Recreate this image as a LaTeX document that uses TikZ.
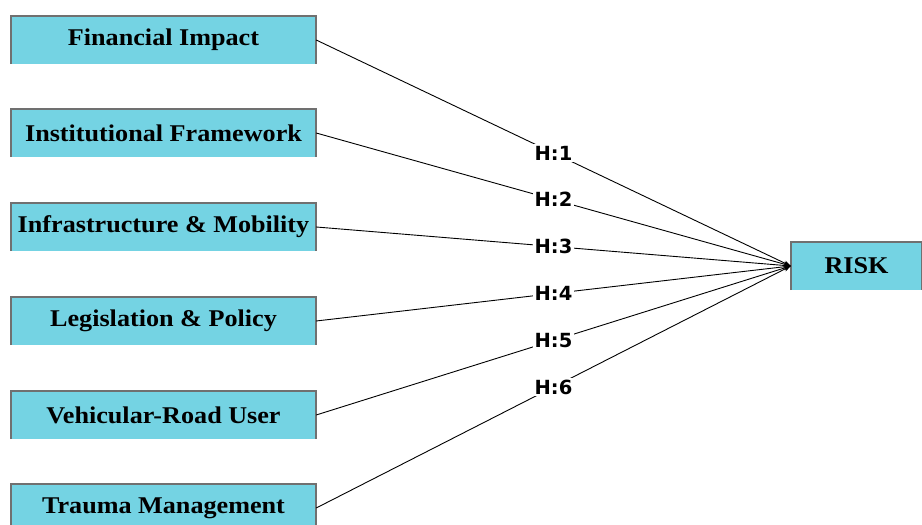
\documentclass[tikz,border=0pt]{standalone}
\usepackage{fontspec}
\usepackage{graphicx}
\setmainfont{Liberation Serif}
\newfontfamily\lblfont{DejaVu Sans}
\usetikzlibrary{arrows.meta}
\definecolor{boxfill}{RGB}{116,211,227}
\definecolor{boxedge}{RGB}{112,112,112}
\tikzset{
  factor/.style={fill=boxfill, draw=none, minimum width=305pt, minimum height=48pt, inner sep=0pt,
    font=\fontsize{24}{26}\selectfont\bfseries},
  riskbox/.style={fill=boxfill, draw=none, minimum width=131pt, minimum height=48pt, inner sep=0pt,
    font=\fontsize{24}{26}\selectfont\bfseries},
  edgeline/.style={draw=boxedge, line width=1.6pt},
  link/.style={draw=black, line width=0.9pt, -{Stealth[length=7pt,width=5pt]}},
  hlabel/.style={fill=white, inner sep=1.5pt, font=\lblfont\fontsize{19.5}{21}\selectfont\bfseries}
}
\newcommand{\wide}[1]{\scalebox{1.09}[1]{#1}}
\begin{document}
\begin{tikzpicture}[x=1pt,y=1pt]
\useasboundingbox (0,0) rectangle (922,525);
\node[factor] (f1) at (163.5,485) {\wide{Financial Impact}};
\node[factor] (f2) at (163.5,392) {\wide{Institutional Framework}};
\node[factor] (f3) at (163.5,298) {\wide{Infrastructure \& Mobility}};
\node[factor] (f4) at (163.5,204) {\wide{Legislation \& Policy}};
\node[factor] (f5) at (163.5,110) {\wide{Vehicular-Road User}};
\node[factor] (f6) at (163.5,17) {\wide{Trauma Management}};
\node[riskbox] (risk) at (856.5,259) {\wide{RISK}};
\foreach \n in {f1,f2,f3,f4,f5,f6,risk}{
  \draw[edgeline] (\n.south west) -- (\n.north west) -- (\n.north east) -- (\n.south east);
}
\draw[link] (f1.east) -- node[hlabel] {H:1} (risk.west);
\draw[link] (f2.east) -- node[hlabel] {H:2} (risk.west);
\draw[link] (f3.east) -- node[hlabel] {H:3} (risk.west);
\draw[link] (f4.east) -- node[hlabel] {H:4} (risk.west);
\draw[link] (f5.east) -- node[hlabel] {H:5} (risk.west);
\draw[link] (f6.east) -- node[hlabel] {H:6} (risk.west);
\end{tikzpicture}
\end{document}
